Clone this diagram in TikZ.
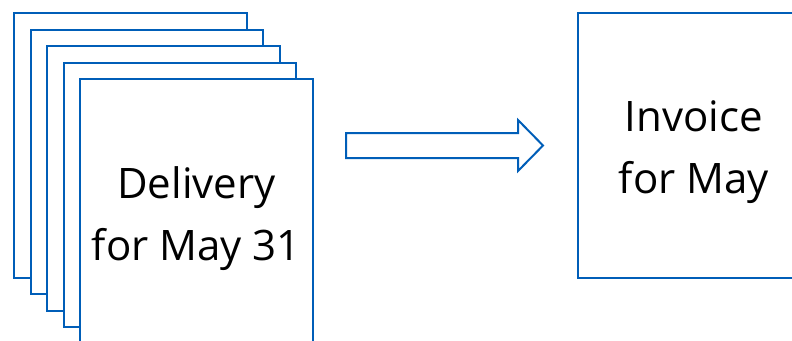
\documentclass[tikz,border=0pt]{standalone}
\usepackage{fontspec}
\setmainfont{Open Sans}
\definecolor{docblue}{RGB}{0,94,184}
\begin{document}
\begin{tikzpicture}[x=1pt,y=-1pt,
  sheet/.style={draw=docblue,line width=2pt,fill=white},
  lbl/.style={align=center,font=\fontsize{42}{62}\selectfont,text=black,inner sep=0pt}]
\useasboundingbox (0,0) rectangle (792,340);
\clip (0,0) rectangle (792,340);
\path[sheet] (14,13) rectangle (246.5,277.5);
\path[sheet] (30.5,29.5) rectangle (263,294);
\path[sheet] (47,46) rectangle (279.5,310.5);
\path[sheet] (63.5,62.5) rectangle (296,327);
\path[sheet] (80,79) rectangle (312.5,343.5);
\node[lbl,anchor=base] (d1) at (196.5,198) {Delivery};
\node[lbl,anchor=base] (d2) at (196.5,260) {for May 31};
\draw[draw=docblue,line width=2pt,line join=miter,fill=white]
  (346,133) -- (518,133) -- (518,120) -- (543,145.5) -- (518,171) -- (518,158) -- (346,158) -- cycle;
\path[sheet] (578,13) rectangle (810,277.5);
\node[lbl,anchor=base] (i1) at (694,131) {Invoice};
\node[lbl,anchor=base] (i2) at (694,193) {for May};
\end{tikzpicture}
\end{document}
